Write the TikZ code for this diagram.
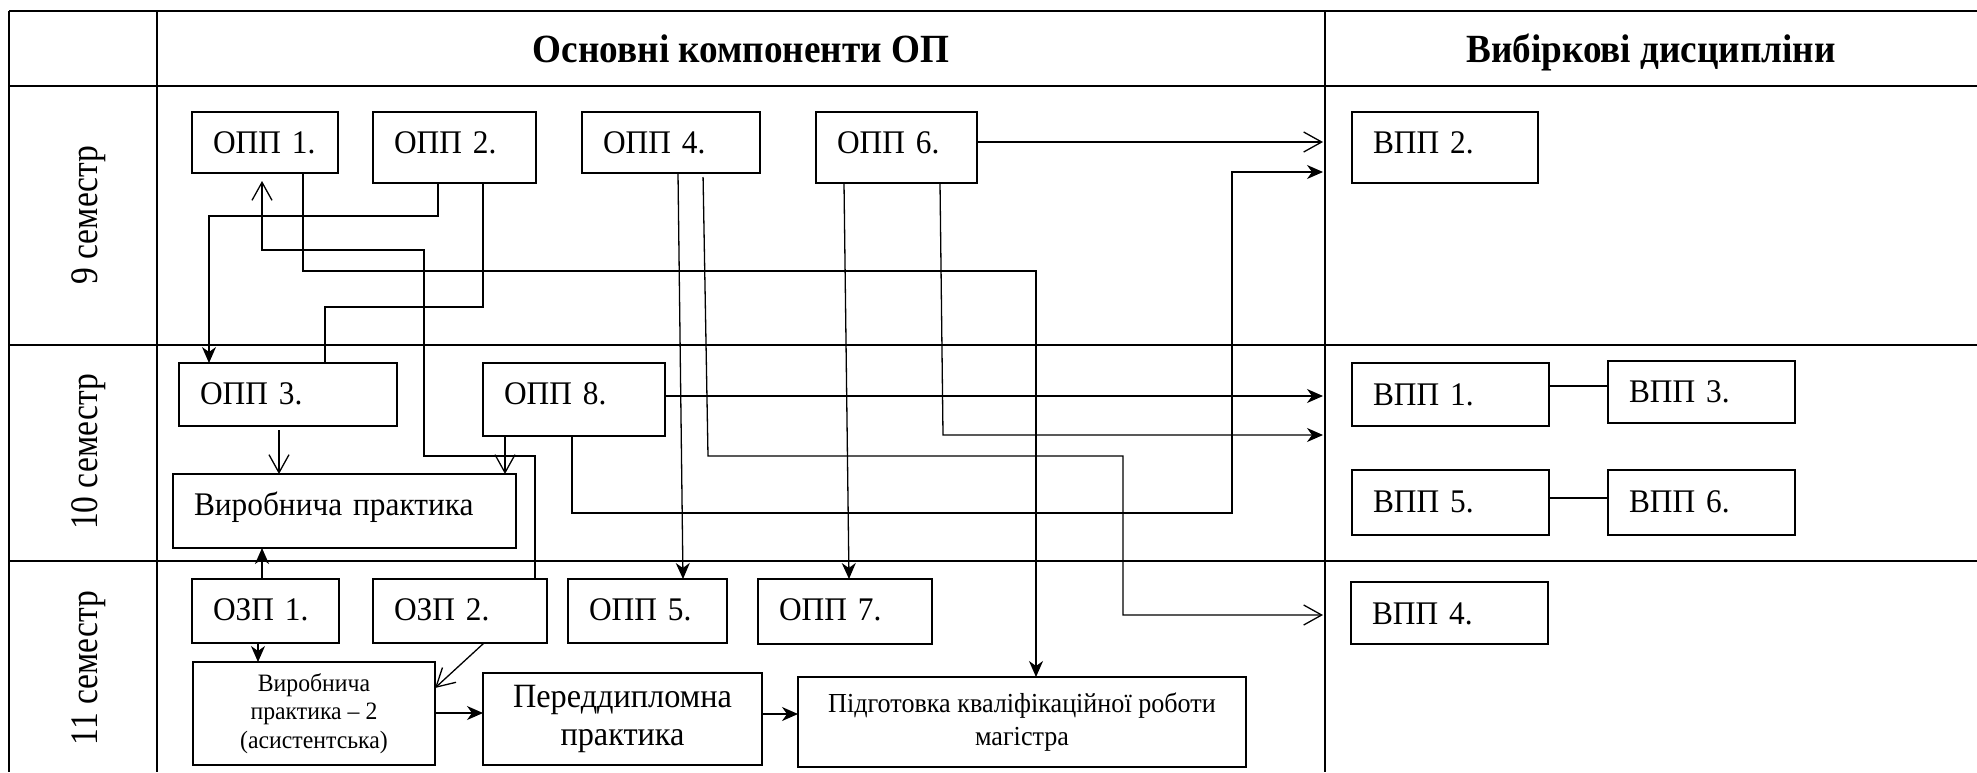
\documentclass[tikz,border=0pt]{standalone}
\usepackage{fontspec}
\setmainfont{Liberation Serif}[FakeStretch=0.95]
\newfontfamily\semfont{Liberation Serif}[FakeStretch=0.86]
\newfontfamily\hdrfont{Liberation Serif}[FakeStretch=0.93]
\usetikzlibrary{arrows.meta}
\begin{document}
\begin{tikzpicture}[x=1pt,y=-1pt,
  tbl/.style={line width=2.2pt},
  box/.style={draw, line width=1.4pt, anchor=north west, inner xsep=21pt, inner ysep=0pt, outer sep=0pt, text height=41pt, align=left, font=\fontsize{33}{39}\selectfont},
  cbox/.style={draw, line width=1.4pt, anchor=north west, inner sep=0pt, outer sep=0pt, align=center},
  con/.style={line width=1.3pt},
  oarr/.style={con, -{Straight Barb[length=18pt,width=20pt]}},
  farr/.style={con, -{Stealth[length=16pt,width=14pt,inset=5pt]}},
  sem/.style={rotate=90, anchor=base, font=\semfont\fontsize{39}{44}\selectfont},
  hdr/.style={anchor=base, font=\hdrfont\fontsize{40}{46}\selectfont\bfseries}
]
\useasboundingbox (0,0) rectangle (1977,772);
% table
\draw[tbl] (9,11) -- (1977,11);
\draw[tbl] (9,86) -- (1977,86);
\draw[tbl] (9,345) -- (1977,345);
\draw[tbl] (9,561) -- (1977,561);
\draw[tbl] (9,11) -- (9,772);
\draw[tbl] (157,11) -- (157,772);
\draw[tbl] (1325,11) -- (1325,772);
% headers
\node[hdr] (h1) at (741,62) {Основні компоненти ОП};
\node[hdr] (h2) at (1651,62) {Вибіркові дисципліни};
\node[sem] (s9) at (97,215) {9 семестр};
\node[sem] (s10) at (97,452) {10 семестр};
\node[sem] (s11) at (97,668) {11 семестр};
% boxes row 9
\node[box, text width=104pt, text depth=20pt] (opp1) at (192,112) {ОПП 1.};
\node[box, text width=121pt, text depth=30pt] (opp2) at (373,112) {ОПП 2.};
\node[box, text width=136pt, text depth=20pt] (opp4) at (582,112) {ОПП 4.};
\node[box, text width=119pt, text depth=30pt] (opp6) at (816,112) {ОПП 6.};
\node[box, text width=144pt, text depth=30pt] (vpp2) at (1352,112) {ВПП 2.};
% row 10
\node[box, text width=176pt, text depth=22pt] (opp3) at (179,363) {ОПП 3.};
\node[box, text width=140pt, text depth=32pt] (opp8) at (483,363) {ОПП 8.};
\node[box, text width=301pt, text depth=33pt] (vp) at (173,474) {Виробнича практика};
\node[box, text width=155pt, text depth=21pt, text height=42pt] (vpp1) at (1352,363) {ВПП 1.};
\node[box, text width=145pt, text depth=21pt] (vpp3) at (1608,361) {ВПП 3.};
\node[box, text width=155pt, text depth=23pt, text height=42pt] (vpp5) at (1352,470) {ВПП 5.};
\node[box, text width=145pt, text depth=23pt, text height=42pt] (vpp6) at (1608,470) {ВПП 6.};
% row 11
\node[box, text width=105pt, text depth=23pt] (ozp1) at (192,579) {ОЗП 1.};
\node[box, text width=132pt, text depth=23pt] (ozp2) at (373,579) {ОЗП 2.};
\node[box, text width=117pt, text depth=23pt] (opp5) at (568,579) {ОПП 5.};
\node[box, text width=132pt, text depth=24pt] (opp7) at (758,579) {ОПП 7.};
\node[box, text width=155pt, text depth=20pt, text height=42pt] (vpp4) at (1351,582) {ВПП 4.};
\node[cbox, minimum width=242pt, minimum height=103pt, font=\fontsize{25}{28.5}\selectfont] (vp2) at (193,662) {Виробнича\\практика – 2\\(асистентська)};
\node[cbox, minimum width=279pt, minimum height=92pt, font=\fontsize{34}{38}\selectfont] (pd) at (483,673) {Переддипломна\\практика};
\node[cbox, minimum width=448pt, minimum height=90pt, font=\fontsize{27.5}{33}\selectfont] (pk) at (798,677) {Підготовка кваліфікаційної роботи\\магістра};
% arrow end points at the column line
\coordinate (r1) at (1323,142);
\coordinate (r2) at (1323,172);
\coordinate (r3) at (1323,396);
\coordinate (r4) at (1323,435);
\coordinate (r5) at (1323,615);
% connectors
\draw[oarr, shorten >=8pt] (ozp2.north -| 535,0) |- (424,456) |- (262,250) -- (opp1.south -| 262,0);
\draw[farr] (opp1.south -| 303,0) |- (1036,271) -- (pk.north -| 1036,0);
\draw[farr] (opp2.south -| 438,0) |- (209,216) -- (opp3.north -| 209,0);
\draw[con] (opp2.south -| 483,0) |- (325,307) -- (opp3.north -| 325,0);
\draw[farr] (opp4.south -| 678,0) -- (opp5.north -| 683,0);
\draw[oarr, shorten <=4pt] (opp4.south -| 703,0) -- (708,456) -- (1123,456) -- (1123,615) -- (r5);
\draw[farr] (opp6.south -| 844,0) -- (opp7.north -| 849,0);
\draw[farr] (opp6.south -| 940,0) -- (943,435) -- (r4);
\draw[oarr] (opp6.east |- r1) -- (r1);
\draw[farr] (opp8.south -| 572,0) |- (1232,513) |- (r2);
\draw[farr] (opp8.east |- r3) -- (r3);
\draw[oarr] (opp8.south -| 505,0) -- (vp.north -| 505,0);
\draw[oarr, shorten <=4pt] (opp3.south -| 279,0) -- (vp.north -| 279,0);
\draw[farr] (ozp1.north -| 262,0) -- (vp.south -| 262,0);
\draw[farr] (ozp1.south -| 258,0) -- (vp2.north -| 258,0);
\draw[oarr] (ozp2.south -| 484,0) -- (vp2.east |- 0,688);
\draw[farr] (vp2.east |- 0,713) -- (pd.west |- 0,713);
\draw[farr] (pd.east |- 0,714) -- (pk.west |- 0,714);
\draw[con] (vpp1.east |- 0,386) -- (vpp3.west |- 0,386);
\draw[con] (vpp5.east |- 0,498) -- (vpp6.west |- 0,498);
\end{tikzpicture}
\end{document}
